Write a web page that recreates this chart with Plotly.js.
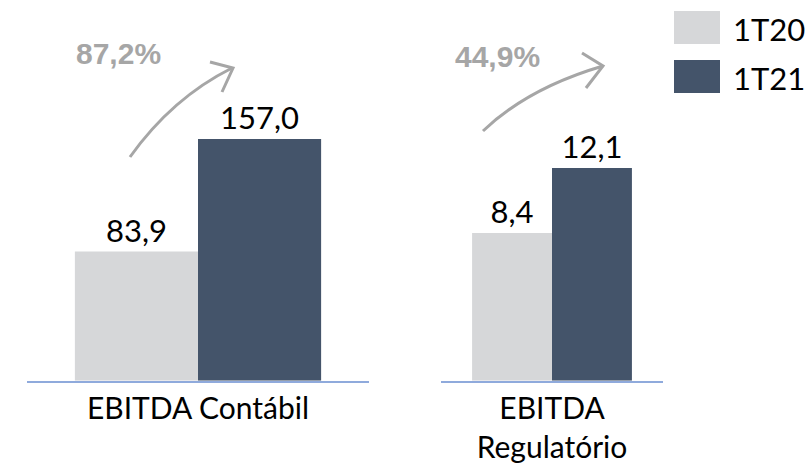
<!DOCTYPE html>
<html>
<head>
<meta charset="utf-8">
<script src="https://cdn.plot.ly/plotly-3.0.1.min.js"></script>
<style>html,body{margin:0;padding:0;background:#fff;}#chart{width:811px;height:465px;}</style>
</head>
<body>
<div id="chart"></div>
<script>
// ---- data ----
const seriesNames = ['1T20', '1T21'];
const contabilCategory = ['EBITDA Contábil'];
const regulatorioCategory = ['EBITDA<br>Regulatório'];
const contabil1T20 = [83.9];
const contabil1T21 = [157.0];
const regulatorio1T20 = [8.4];
const regulatorio1T21 = [12.1];
const growthLabels = ['87,2%', '44,9%'];

// ---- styles ----
const W = 811, H = 465;
const colorLight = '#D6D7D9';
const colorDark = '#44546A';
const axisColor = '#8FAADC';
const arrowColor = '#A6A6A6';
const fmt = v => v.toFixed(1).replace('.', ',');
const px = x => x / W;
const py = y => 1 - y / H;

function bar(x, y, name, color, xa, ya) {
  return {
    type: 'bar', x: x, y: y, name: name, xaxis: xa, yaxis: ya,
    marker: {color: color, line: {width: 0}},
    text: y.map(fmt), textposition: 'outside', cliponaxis: false,
    textfont: {family: 'Lato, Carlito, sans-serif', size: 31, color: '#000'},
    hoverinfo: 'none', showlegend: false
  };
}

const data = [
  bar(contabilCategory, contabil1T20, seriesNames[0], colorLight, 'x', 'y'),
  bar(contabilCategory, contabil1T21, seriesNames[1], colorDark, 'x', 'y'),
  bar(regulatorioCategory, regulatorio1T20, seriesNames[0], colorLight, 'x2', 'y2'),
  bar(regulatorioCategory, regulatorio1T21, seriesNames[1], colorDark, 'x2', 'y2')
];

const yBottom = (H - 380.7) / H;
const tickFont = {family: 'Lato, sans-serif', size: 30, color: '#000'};
function xAxis(domain, anchor) {
  return {
    domain: domain, anchor: anchor, showline: true, linecolor: axisColor, linewidth: 2,
    showgrid: false, zeroline: false, ticks: '', tickfont: tickFont, fixedrange: true,
    ticklabelstandoff: 0
  };
}
function yAxis(range, anchor) {
  return {
    domain: [yBottom, 1], anchor: anchor, range: range, visible: false,
    showgrid: false, zeroline: false, fixedrange: true
  };
}

// curved arrow path helper (pixel coords -> paper)
function arrowPath(p0, c, p1) {
  return 'M ' + px(p0[0]) + ' ' + py(p0[1]) + ' Q ' + px(c[0]) + ' ' + py(c[1]) + ' ' + px(p1[0]) + ' ' + py(p1[1]);
}
function headPath(a, tip, b) {
  return 'M ' + px(a[0]) + ' ' + py(a[1]) + ' L ' + px(tip[0]) + ' ' + py(tip[1]) + ' L ' + px(b[0]) + ' ' + py(b[1]);
}
const arrowLine = {color: arrowColor, width: 3};
const shapes = [
  {type: 'path', xref: 'paper', yref: 'paper', path: arrowPath([130, 157], [172, 98], [232, 68]), line: arrowLine},
  {type: 'path', xref: 'paper', yref: 'paper', path: headPath([210, 62], [233, 68], [222, 92]), line: arrowLine},
  {type: 'path', xref: 'paper', yref: 'paper', path: arrowPath([483, 131], [528, 88], [603, 66]), line: arrowLine},
  {type: 'path', xref: 'paper', yref: 'paper', path: headPath([582, 53], [603, 66], [586, 88]), line: arrowLine},
  // legend swatches
  {type: 'rect', xref: 'paper', yref: 'paper', x0: px(674), x1: px(720), y0: py(11), y1: py(44), fillcolor: colorLight, line: {width: 0}},
  {type: 'rect', xref: 'paper', yref: 'paper', x0: px(674), x1: px(720), y0: py(60), y1: py(93), fillcolor: colorDark, line: {width: 0}}
];

const pctFont = {family: '"Liberation Sans", Arial, sans-serif', size: 30, color: arrowColor};
const annotations = [
  {xref: 'paper', yref: 'paper', x: px(118), y: py(54), text: '<b>' + growthLabels[0] + '</b>', showarrow: false,
   font: pctFont, xanchor: 'center', yanchor: 'middle'},
  {xref: 'paper', yref: 'paper', x: px(497), y: py(57), text: '<b>' + growthLabels[1] + '</b>', showarrow: false,
   font: pctFont, xanchor: 'center', yanchor: 'middle'},
  {xref: 'paper', yref: 'paper', x: px(731), y: py(29), text: seriesNames[0], showarrow: false,
   font: {family: 'Lato, Carlito, sans-serif', size: 31, color: '#000'}, xanchor: 'left', yanchor: 'middle'},
  {xref: 'paper', yref: 'paper', x: px(731), y: py(78), text: seriesNames[1], showarrow: false,
   font: {family: 'Lato, Carlito, sans-serif', size: 31, color: '#000'}, xanchor: 'left', yanchor: 'middle'}
];

const layout = {
  width: W, height: H,
  margin: {l: 0, r: 0, t: 0, b: 0, pad: 0},
  paper_bgcolor: '#fff', plot_bgcolor: 'rgba(0,0,0,0)',
  barmode: 'group', bargap: 0.28, bargroupgap: 0,
  showlegend: false,
  xaxis: xAxis([27 / W, 369 / W], 'y'),
  yaxis: yAxis([0, 247.3], 'x'),
  xaxis2: xAxis([441 / W, 663 / W], 'y2'),
  yaxis2: yAxis([0, 21.66], 'x2'),
  shapes: shapes,
  annotations: annotations,
  font: {family: 'Lato, sans-serif'}
};

Plotly.newPlot('chart', data, layout, {displayModeBar: false, staticPlot: true});
</script>
</body>
</html>
